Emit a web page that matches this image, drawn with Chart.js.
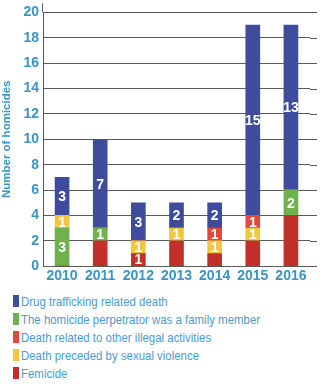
<!DOCTYPE html>
<html>
<head>
<meta charset="utf-8">
<script src="https://cdn.jsdelivr.net/npm/chart.js@4"></script>
<style>
  html, body { margin: 0; padding: 0; background: #fff; }
  #wrap { position: relative; width: 325px; height: 384px; overflow: hidden; }
  #chart-box { position: absolute; left: 0; top: 0; width: 325px; height: 287px; }
  #legend { position: absolute; left: 13px; top: 292px; font-family: "Liberation Sans", sans-serif; font-size: 13px; color: #4d9ccb; }
  #legend .row { display: flex; align-items: center; height: 18px; white-space: nowrap; }
  #legend .sw { width: 6px; height: 12px; margin-right: 2px; flex: none; }
  #legend .tx { display: inline-block; transform: scaleX(0.88); transform-origin: left center; }
</style>
</head>
<body>
<div id="wrap">
  <div id="chart-box"><canvas id="c"></canvas></div>
  <div id="legend"></div>
</div>
<script>
const years = ["2010", "2011", "2012", "2013", "2014", "2015", "2016"];

// stacked bottom -> top
const femicide = [0, 2, 1, 2, 1, 2, 4];
const familyMember = [3, 1, 0, 0, 0, 0, 2];
const sexualViolence = [1, 0, 1, 1, 1, 1, 0];
const illegalActivities = [0, 0, 0, 0, 1, 1, 0];
const drugTrafficking = [3, 7, 3, 2, 2, 15, 13];

// numbers printed inside segments (null = not printed)
const femicideLabels = [null, null, "1", null, null, null, null];
const familyLabels = ["3", "1", null, null, null, null, "2"];
const sexualLabels = ["1", null, "1", "1", "1", "1", null];
const illegalLabels = [null, null, null, null, "1", "1", null];
const drugLabels = ["3", "7", "3", "2", "2", "15", "13"];

const yTicks = [0, 2, 4, 6, 8, 10, 12, 14, 16, 18, 20];

// legend order as printed under the chart
const legendOrder = [4, 1, 3, 2, 0];

const FONT = '"Liberation Sans", sans-serif';
const TEXT_BLUE = "#3a94c6";
const GRID = "#5a5a5a";

const datasets = [
   { label: "Femicide", data: femicide, backgroundColor: "#c1302b", marks: femicideLabels },
   { label: "The homicide perpetrator was a family member", data: familyMember, backgroundColor: "#6db24a", marks: familyLabels },
   { label: "Death preceded by sexual violence", data: sexualViolence, backgroundColor: "#f3c63f", marks: sexualLabels },
   { label: "Death related to other illegal activities", data: illegalActivities, backgroundColor: "#e6473d", marks: illegalLabels },
   { label: "Drug trafficking related death", data: drugTrafficking, backgroundColor: "#3f4b9d", marks: drugLabels },
].map((d) => ({ ...d, barThickness: 14, borderWidth: 0 }));

// gridlines run a little past the last bar, axis line a little above 20
const gridExtend = {
   id: "gridExtend",
   beforeDatasetsDraw(chart) {
      const { ctx, chartArea, scales } = chart;
      ctx.save();
      ctx.strokeStyle = GRID;
      ctx.lineWidth = 1;
      ctx.beginPath();
      yTicks.forEach((v) => {
         const y = Math.round(scales.y.getPixelForValue(v)) + 0.5;
         ctx.moveTo(chartArea.right, y);
         ctx.lineTo(chartArea.right + 7, y);
      });
      const x = Math.round(chartArea.left) - 0.5;
      ctx.moveTo(x, chartArea.top);
      ctx.lineTo(x, chartArea.top - 9);
      ctx.stroke();
      ctx.restore();
   },
};

const segLabels = {
   id: "segLabels",
   afterDatasetsDraw(chart) {
      const ctx = chart.ctx;
      ctx.save();
      ctx.fillStyle = "#fff";
      ctx.font = `bold 14px ${FONT}`;
      ctx.textAlign = "center";
      ctx.textBaseline = "middle";
      chart.data.datasets.forEach((ds, i) => {
         const meta = chart.getDatasetMeta(i);
         meta.data.forEach((bar, j) => {
            const txt = ds.marks[j];
            if (!txt || !ds.data[j]) return;
            ctx.fillText(txt, bar.x, (bar.y + bar.base) / 2 + 1);
         });
      });
      ctx.restore();
   },
};

new Chart(document.getElementById("c"), {
   type: "bar",
   data: { labels: years, datasets },
   options: {
      responsive: true,
      maintainAspectRatio: false,
      animation: false,
      layout: { padding: { top: 9, right: 15, left: 0, bottom: 0 } },
      plugins: { legend: { display: false }, tooltip: { enabled: false } },
      scales: {
         x: {
            stacked: true,
            grid: { display: false, drawTicks: false, tickLength: 0 },
            border: { display: false },
            ticks: { color: TEXT_BLUE, font: { family: FONT, size: 14, weight: "bold" }, padding: 2 },
         },
         y: {
            stacked: true,
            min: 0,
            max: 20,
            afterBuildTicks: (axis) => { axis.ticks = yTicks.map((v) => ({ value: v })); },
            afterFit: (axis) => { axis.width = 43; },
            grid: { color: GRID, lineWidth: 1, drawTicks: false },
            border: { display: true, color: GRID },
            ticks: { color: TEXT_BLUE, font: { family: FONT, size: 14, weight: "bold" }, padding: 4 },
            title: { display: true, text: "Number of homicides", color: TEXT_BLUE, font: { family: FONT, size: 11.5, weight: "bold" }, padding: 0 },
         },
      },
   },
   plugins: [gridExtend, segLabels],
});

const legendEl = document.getElementById("legend");
legendOrder.forEach((i) => {
   const ds = datasets[i];
   const row = document.createElement("div");
   row.className = "row";
   row.innerHTML = `<span class="sw" style="background:${ds.backgroundColor}"></span><span class="tx">${ds.label}</span>`;
   legendEl.appendChild(row);
});
</script>
</body>
</html>
